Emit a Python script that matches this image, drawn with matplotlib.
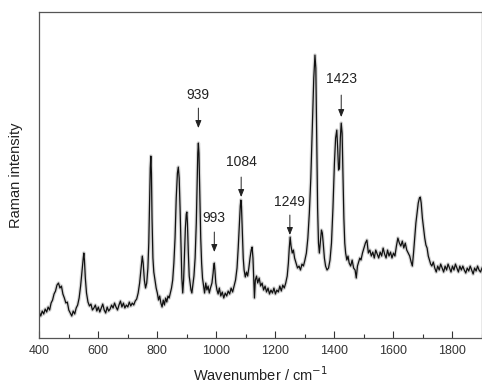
import matplotlib
matplotlib.use('Agg')
import matplotlib.pyplot as plt
from matplotlib.ticker import MultipleLocator

plt.rcParams['font.family'] = ['Liberation Sans', 'DejaVu Sans']

# spectrum (wavenumber in cm-1, intensity in arbitrary units)
wavenumber = [
    400, 405, 410, 415, 420, 425, 430, 435, 440, 445, 450, 455, 460, 465, 470, 475,
    480, 485, 490, 495, 500, 505, 510, 515, 520, 525, 530, 535, 540, 545, 549, 551,
    553, 556, 560, 565, 570, 575, 580, 585, 590, 595, 600, 605, 610, 615, 620, 625,
    630, 635, 640, 645, 650, 655, 660, 665, 670, 675, 680, 685, 690, 695, 700, 705,
    710, 715, 720, 725, 730, 735, 740, 745, 749, 752, 756, 760, 764, 768, 771, 774,
    776, 778, 780, 782, 785, 788, 792, 796, 800, 804, 808, 812, 816, 820, 824, 828,
    832, 836, 840, 844, 848, 852, 856, 860, 864, 868, 871, 874, 877, 880, 883, 886,
    889, 892, 895, 898, 900, 902, 905, 908, 911, 914, 917, 920, 924, 928, 932, 935,
    937, 939, 941, 944, 947, 950, 953, 957, 960, 964, 968, 972, 976, 980, 985, 989,
    991, 993, 995, 998, 1002, 1006, 1010, 1015, 1020, 1025, 1030, 1035, 1040, 1045,
    1050, 1055, 1060, 1065, 1070, 1074, 1078, 1081, 1083, 1085, 1088, 1091, 1094,
    1098, 1102, 1106, 1110, 1114, 1118, 1121, 1124, 1127, 1129, 1132, 1136, 1140,
    1145, 1150, 1155, 1160, 1165, 1170, 1175, 1180, 1185, 1190, 1195, 1200, 1205,
    1210, 1215, 1220, 1225, 1230, 1235, 1240, 1244, 1247, 1250, 1253, 1257, 1261,
    1265, 1270, 1275, 1280, 1285, 1290, 1295, 1300, 1305, 1310, 1315, 1320, 1325,
    1330, 1334, 1337, 1340, 1343, 1346, 1349, 1352, 1356, 1359, 1362, 1366, 1370,
    1375, 1380, 1385, 1390, 1395, 1400, 1404, 1408, 1411, 1414, 1417, 1420, 1423,
    1426, 1429, 1432, 1435, 1438, 1442, 1446, 1450, 1455, 1460, 1465, 1470, 1474,
    1478, 1482, 1486, 1490, 1495, 1500, 1505, 1510, 1515, 1520, 1525, 1530, 1535,
    1540, 1545, 1550, 1555, 1560, 1565, 1570, 1575, 1580, 1585, 1590, 1595, 1600,
    1605, 1610, 1615, 1620, 1625, 1630, 1635, 1640, 1645, 1650, 1655, 1660, 1664,
    1668, 1672, 1676, 1680, 1684, 1688, 1691, 1694, 1698, 1702, 1706, 1710, 1714,
    1718, 1722, 1726, 1730, 1735, 1740, 1745, 1750, 1755, 1760, 1765, 1770, 1775,
    1780, 1785, 1790, 1795, 1800, 1805, 1810, 1815, 1820, 1825, 1830, 1835, 1840,
    1845, 1850, 1855, 1860, 1865, 1870, 1875, 1880, 1885, 1890, 1895, 1900,
]
intensity = [
    26, 22, 27, 24, 29, 26, 31, 28, 35, 38, 44, 47, 53, 55, 50, 52,
    44, 40, 35, 36, 28, 25, 22, 27, 24, 30, 33, 40, 52, 68, 80, 85,
    78, 60, 45, 36, 32, 34, 28, 30, 33, 27, 31, 26, 30, 34, 28, 25,
    31, 27, 29, 33, 30, 35, 31, 28, 33, 37, 31, 35, 30, 33, 31, 36,
    32, 35, 33, 37, 39, 45, 55, 70, 82, 75, 58, 50, 55, 70, 95, 140,
    170, 182, 165, 120, 80, 66, 58, 50, 45, 38, 42, 35, 31, 38, 33, 40,
    36, 42, 40, 45, 50, 58, 75, 100, 140, 165, 171, 160, 130, 95, 60, 45,
    58, 85, 110, 124, 126, 115, 85, 62, 55, 48, 45, 52, 62, 80, 115, 160,
    185, 195, 185, 140, 100, 75, 60, 51, 45, 55, 48, 52, 45, 50, 55, 65,
    72, 75, 68, 55, 48, 44, 50, 42, 46, 40, 45, 42, 47, 44,
    50, 46, 52, 58, 70, 90, 115, 132, 138, 132, 105, 80, 68,
    61, 66, 62, 70, 80, 88, 91, 80, 55, 40, 58, 62, 55,
    60, 52, 55, 48, 52, 46, 50, 44, 48, 45, 50, 44, 48,
    46, 52, 47, 53, 50, 55, 62, 75, 90, 101, 92, 85, 88,
    80, 75, 70, 72, 68, 74, 72, 78, 85, 100, 125, 160, 210,
    260, 283, 270, 200, 130, 95, 85, 95, 108, 105, 95, 80, 72,
    68, 70, 78, 95, 130, 175, 200, 208, 190, 168, 170, 200, 215,
    205, 160, 120, 95, 85, 78, 82, 75, 72, 78, 70, 68, 60,
    72, 76, 80, 78, 85, 90, 95, 98, 85, 88, 82, 86, 80,
    88, 84, 80, 86, 82, 90, 84, 80, 88, 82, 86, 80, 85,
    82, 92, 100, 95, 92, 97, 90, 95, 88, 85, 82, 76, 72,
    85, 100, 115, 125, 135, 140, 141, 135, 120, 110, 100, 93, 90,
    82, 78, 74, 72, 76, 70, 66, 72, 68, 74, 70, 66, 72,
    68, 74, 70, 66, 72, 68, 74, 70, 66, 72, 68, 72, 68,
    65, 70, 67, 72, 68, 64, 70, 67, 72, 68, 66, 70,
]

# peak labels: position, arrow tail / tip heights, label height
peak_pos = [939, 993, 1084, 1249, 1423]
arrow_tail = [230, 106, 161, 123, 243]
arrow_tip = [210, 86, 141, 103, 221]
label_y = [243, 120, 176, 136, 259]

fig = plt.figure(figsize=(4.82, 3.91), dpi=100)
ax = fig.add_axes([0.0815, 0.1355, 0.9185, 0.8335])

# soft grey underlay gives the noisy, fuzzy look of the measured trace
ax.plot(wavenumber, intensity, color='#888888', lw=2.6, alpha=0.35)
ax.plot(wavenumber, intensity, color='#111111', lw=0.9)

for x, y0, y1, ly in zip(peak_pos, arrow_tail, arrow_tip, label_y):
    ax.annotate('', xy=(x, y1), xytext=(x, y0),
                arrowprops=dict(arrowstyle='-|>,head_length=0.45,head_width=0.18',
                                color='#222222', lw=0.7, shrinkA=0, shrinkB=0))
    ax.text(x, ly, str(x), ha='center', va='center', fontsize=10, color='#222222')

ax.set_xlim(400, 1900)
ax.set_ylim(0, 326)
ax.xaxis.set_major_locator(MultipleLocator(200))
ax.xaxis.set_minor_locator(MultipleLocator(100))
ax.tick_params(axis='x', which='major', direction='in', length=5, width=0.8,
               labelsize=9, colors='#333333', pad=5)
ax.tick_params(axis='x', which='minor', direction='in', length=3, width=0.8,
               colors='#333333')
ax.set_yticks([])
for s in ax.spines.values():
    s.set_color('#555555')
    s.set_linewidth(0.9)

ax.set_xlabel('Wavenumber / cm$^{-1}$', fontsize=10.5, color='#222222', labelpad=6)
ax.set_ylabel('Raman intensity', fontsize=10.5, color='#222222', labelpad=12)

fig.savefig('out.png', dpi=100)
